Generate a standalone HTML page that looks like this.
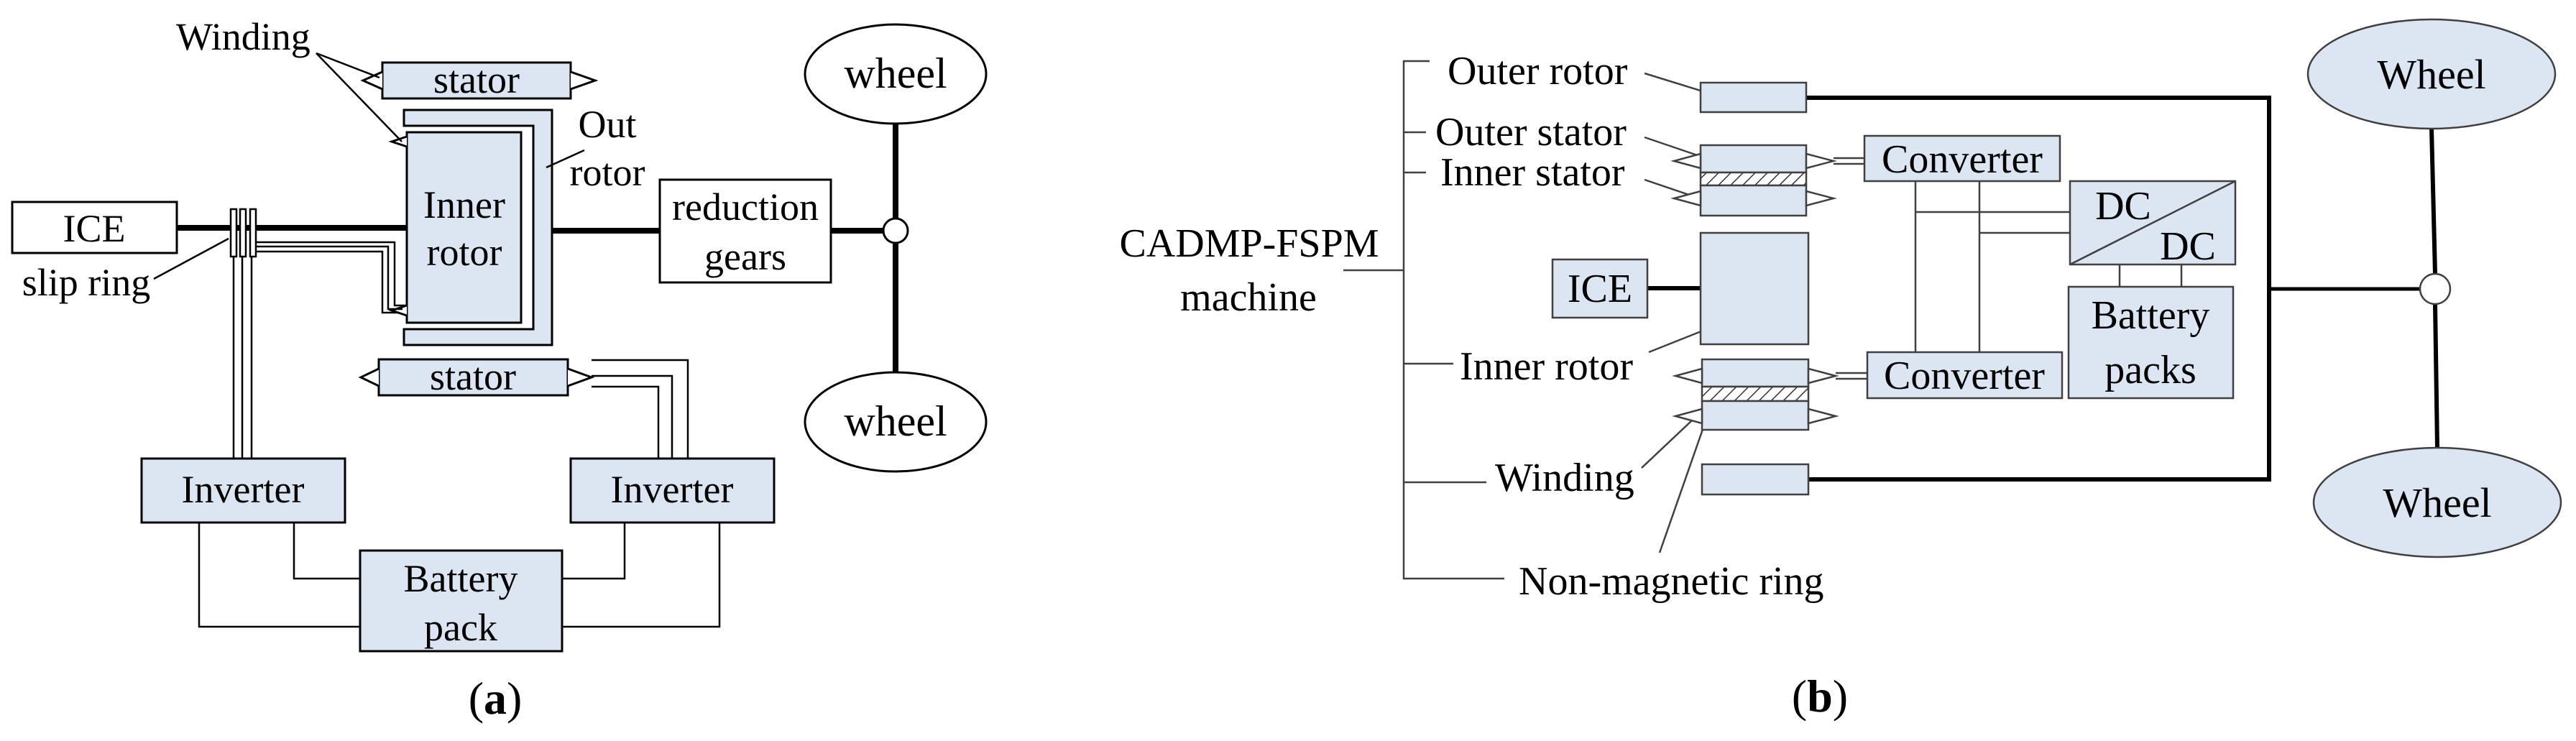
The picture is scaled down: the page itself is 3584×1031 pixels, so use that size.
<!DOCTYPE html>
<html><head><meta charset="utf-8"><style>
html,body{margin:0;padding:0;background:#fff;}
svg{display:block;}
svg text{font-family:"Liberation Serif","Times New Roman",Times,serif;fill:#000;}
</style></head><body>
<svg width="3584" height="1031" viewBox="0 0 3584 1031" xmlns="http://www.w3.org/2000/svg" font-family="Liberation Serif, Times New Roman, serif">
<defs>
<pattern id="hatch" width="12" height="12" patternUnits="userSpaceOnUse" patternTransform="rotate(45)">
<rect width="12" height="12" fill="#fff"/><line x1="0" y1="0" x2="0" y2="12" stroke="#333" stroke-width="3"/>
</pattern>
</defs>
<!-- ===== Panel (a) ===== -->
<g stroke="#000" stroke-width="3" fill="none">
<rect x="532" y="87" width="262" height="50" fill="#dce6f2"/>
<polyline points="532,100 505,112 532,124" fill="#fff"/>
<polyline points="794,100 828,112 794,124" fill="#fff"/>
<path d="M562,153 H768 V480 H562 V458 H742 V175 H562 Z" fill="#dce6f2"/>
<rect x="566" y="184" width="159" height="265" fill="#dce6f2"/>
<polyline points="566,190 545,197 566,204" fill="#fff"/>
<polyline points="566,425 545,432 566,439" fill="#fff"/>
<rect x="17" y="281" width="229" height="71" fill="#fff"/>
<line x1="246" y1="317" x2="566" y2="317" stroke-width="8"/>
<line x1="768" y1="321" x2="918" y2="321" stroke-width="8"/>
<line x1="1156" y1="321" x2="1228" y2="321" stroke-width="8"/>
<rect x="321" y="291" width="8" height="66" fill="#fff" stroke-width="2.5"/>
<rect x="334" y="291" width="8" height="66" fill="#fff" stroke-width="2.5"/>
<rect x="348" y="291" width="8" height="66" fill="#fff" stroke-width="2.5"/>
<g stroke-width="2.5">
<polyline points="356,337 549,337 549,425 566,425"/>
<polyline points="356,343 540,343 540,430 560,430"/>
<polyline points="356,350 532,350 532,435 555,435"/>
<line x1="325" y1="357" x2="325" y2="638"/>
<line x1="337" y1="357" x2="337" y2="638"/>
<line x1="350" y1="357" x2="350" y2="638"/>
</g>
<g stroke-width="2.5">
<line x1="214" y1="388" x2="318" y2="332"/>
<line x1="440" y1="74" x2="528" y2="108"/>
<line x1="440" y1="74" x2="559" y2="197"/>
<line x1="813" y1="209" x2="760" y2="233"/>
</g>
<rect x="918" y="250" width="238" height="143" fill="#fff"/>
<rect x="527" y="500" width="263" height="50" fill="#dce6f2"/>
<polyline points="527,513 502,525 527,537" fill="#fff"/>
<polyline points="790,513 823,525 790,537" fill="#fff"/>
<g stroke-width="2.5">
<polyline points="823,501 957,501 957,638"/>
<polyline points="823,523 935,523 935,638"/>
<polyline points="823,538 916,538 916,638"/>
</g>
<rect x="197" y="638" width="283" height="89" fill="#dce6f2"/>
<rect x="794" y="638" width="283" height="89" fill="#dce6f2"/>
<rect x="501" y="766" width="281" height="140" fill="#dce6f2"/>
<g stroke-width="2.5">
<polyline points="277,727 277,872 501,872"/>
<polyline points="409,727 409,805 501,805"/>
<polyline points="1001,727 1001,872 782,872"/>
<polyline points="869,727 869,805 782,805"/>
</g>
<ellipse cx="1246" cy="103" rx="126" ry="69" fill="#fff"/>
<ellipse cx="1246" cy="587" rx="126" ry="69" fill="#fff"/>
<line x1="1246" y1="172" x2="1246" y2="518" stroke-width="8"/>
<circle cx="1246" cy="321" r="17" fill="#fff" stroke-width="3"/>
</g>
<g font-size="54">
<text x="245" y="69">Winding</text>
<text x="663" y="129" text-anchor="middle">stator</text>
<text x="658" y="542" text-anchor="middle">stator</text>
<text x="845" y="191" text-anchor="middle">Out</text>
<text x="845" y="258" text-anchor="middle">rotor</text>
<text x="646" y="303" text-anchor="middle">Inner</text>
<text x="646" y="369" text-anchor="middle">rotor</text>
<text x="131" y="336" text-anchor="middle">ICE</text>
<text x="120" y="411" text-anchor="middle">slip ring</text>
<text x="1037" y="306" text-anchor="middle">reduction</text>
<text x="1037" y="375" text-anchor="middle">gears</text>
<text x="338" y="699" text-anchor="middle">Inverter</text>
<text x="935" y="699" text-anchor="middle">Inverter</text>
<text x="641" y="823" text-anchor="middle">Battery</text>
<text x="641" y="891" text-anchor="middle">pack</text>
<text x="1246" y="122" text-anchor="middle" font-size="60">wheel</text>
<text x="1246" y="606" text-anchor="middle" font-size="60">wheel</text>
<text x="689" y="993" text-anchor="middle" font-size="64">(<tspan font-weight="bold">a</tspan>)</text>
</g>
<!-- ===== Panel (b) ===== -->
<g stroke="#404040" stroke-width="2.5" fill="none">
<polyline points="1989,85 1953,85 1953,805 2093,805"/>
<line x1="1953" y1="184" x2="1984" y2="184"/>
<line x1="1953" y1="240" x2="1984" y2="240"/>
<line x1="1869" y1="376" x2="1953" y2="376"/>
<line x1="1953" y1="506" x2="2022" y2="506"/>
<line x1="1953" y1="671" x2="2068" y2="671"/>
<line x1="2288" y1="102" x2="2385" y2="132"/>
<line x1="2288" y1="191" x2="2385" y2="224"/>
<line x1="2288" y1="250" x2="2385" y2="283"/>
<line x1="2294" y1="490" x2="2397" y2="449"/>
<line x1="2284" y1="651" x2="2354" y2="585"/>
<line x1="2309" y1="769" x2="2387" y2="546"/>
<polyline points="2513,136 3157,136 3157,667 2516,667" stroke="#000" stroke-width="6"/>
<line x1="2292" y1="401" x2="2366" y2="401" stroke="#000" stroke-width="6"/>
<line x1="3157" y1="402" x2="3367" y2="402" stroke="#000" stroke-width="5"/>
<line x1="3383" y1="179" x2="3388" y2="381" stroke="#000" stroke-width="6"/>
<line x1="3388" y1="423" x2="3391" y2="623" stroke="#000" stroke-width="6"/>
<rect x="2366" y="115" width="147" height="41" fill="#dce6f2"/>
<rect x="2366" y="202" width="147" height="38" fill="#dce6f2"/>
<rect x="2366" y="240" width="147" height="18" fill="url(#hatch)"/>
<rect x="2366" y="258" width="147" height="42" fill="#dce6f2"/>
<rect x="2366" y="324" width="150" height="155" fill="#dce6f2"/>
<rect x="2160" y="361" width="132" height="81" fill="#dce6f2"/>
<rect x="2368" y="500" width="148" height="38" fill="#dce6f2"/>
<rect x="2368" y="538" width="148" height="20" fill="url(#hatch)"/>
<rect x="2368" y="558" width="148" height="40" fill="#dce6f2"/>
<rect x="2368" y="646" width="148" height="42" fill="#dce6f2"/>
<polygon points="2366,214 2329,224 2366,234" fill="#fff"/>
<polygon points="2366,266 2329,276 2366,286" fill="#fff"/>
<polygon points="2513,214 2551,224 2513,234" fill="#fff"/>
<polygon points="2513,266 2551,276 2513,286" fill="#fff"/>
<polygon points="2368,513 2331,523 2368,533" fill="#fff"/>
<polygon points="2368,569 2331,579 2368,589" fill="#fff"/>
<polygon points="2516,513 2554,523 2516,533" fill="#fff"/>
<polygon points="2516,569 2554,579 2516,589" fill="#fff"/>
<line x1="2551" y1="220" x2="2594" y2="220"/>
<line x1="2551" y1="228" x2="2594" y2="228"/>
<line x1="2554" y1="519" x2="2598" y2="519"/>
<line x1="2554" y1="527" x2="2598" y2="527"/>
<rect x="2594" y="189" width="272" height="63" fill="#dce6f2"/>
<rect x="2598" y="490" width="271" height="64" fill="#dce6f2"/>
<line x1="2665" y1="252" x2="2665" y2="490"/>
<line x1="2754" y1="252" x2="2754" y2="490"/>
<line x1="2665" y1="295" x2="2880" y2="295"/>
<line x1="2754" y1="324" x2="2880" y2="324"/>
<rect x="2880" y="252" width="230" height="116" fill="#dce6f2"/>
<line x1="2880" y1="368" x2="3110" y2="252"/>
<line x1="2949" y1="368" x2="2949" y2="399"/>
<line x1="3035" y1="368" x2="3035" y2="399"/>
<rect x="2878" y="399" width="229" height="155" fill="#dce6f2"/>
<ellipse cx="3383" cy="103" rx="172" ry="76" fill="#dce6f2"/>
<ellipse cx="3391" cy="699" rx="172" ry="76" fill="#dce6f2"/>
<circle cx="3388" cy="402" r="21" fill="#fff"/>
</g>
<g font-size="56">
<text x="2014" y="117">Outer rotor</text>
<text x="1997" y="202">Outer stator</text>
<text x="2004" y="258">Inner stator</text>
<text x="1738" y="357" text-anchor="middle">CADMP-FSPM</text>
<text x="1737" y="432" text-anchor="middle">machine</text>
<text x="2031" y="528">Inner rotor</text>
<text x="2080" y="683">Winding</text>
<text x="2113" y="827">Non-magnetic ring</text>
<text x="2226" y="420" text-anchor="middle">ICE</text>
<text x="2730" y="240" text-anchor="middle">Converter</text>
<text x="2733" y="541" text-anchor="middle">Converter</text>
<text x="2954" y="305" text-anchor="middle">DC</text>
<text x="3044" y="361" text-anchor="middle">DC</text>
<text x="2992" y="457" text-anchor="middle">Battery</text>
<text x="2992" y="533" text-anchor="middle">packs</text>
<text x="3383" y="123" text-anchor="middle" font-size="58">Wheel</text>
<text x="3391" y="719" text-anchor="middle" font-size="58">Wheel</text>
<text x="2532" y="990" text-anchor="middle" font-size="64">(<tspan font-weight="bold">b</tspan>)</text>
</g>
</svg>
</body></html>
